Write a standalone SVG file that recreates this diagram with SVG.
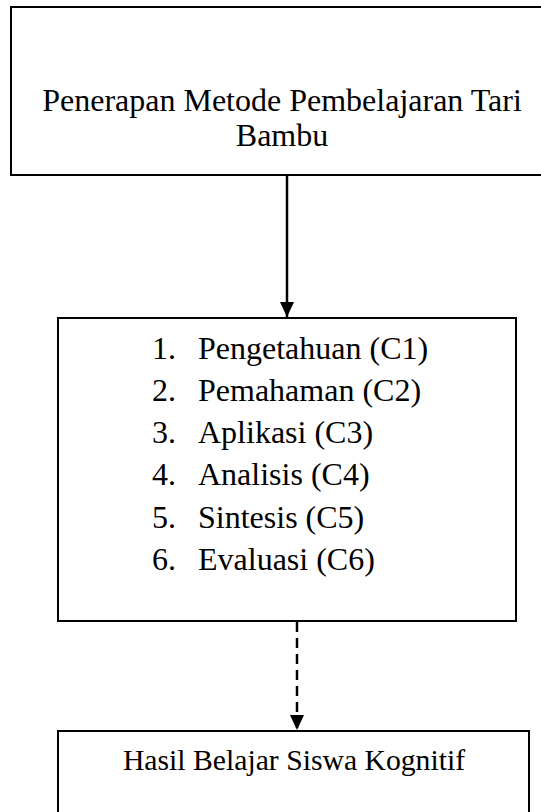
<svg xmlns="http://www.w3.org/2000/svg" width="541" height="812" viewBox="0 0 541 812">
<style>
.box{fill:#fff;stroke:#000;stroke-width:2}
.t{font-family:"Liberation Serif","Times New Roman",serif;font-size:32px;fill:#000}
.c{font-family:"Liberation Serif","Times New Roman",serif;font-size:29.7px;fill:#000}
.conn{stroke:#000;stroke-width:2.5;fill:none}
</style>
<defs>
<marker id="ah" markerWidth="15" markerHeight="14" refX="15" refY="7" orient="auto" markerUnits="userSpaceOnUse">
<path d="M0,0 L15,7 L0,14 Z" fill="#000"/>
</marker>
</defs>
<rect width="541" height="812" fill="#fff"/>
<g id="connectors">
<line class="conn" x1="287" y1="175" x2="287" y2="317" marker-end="url(#ah)"/>
<line class="conn" x1="297" y1="622" x2="297" y2="730" stroke-dasharray="10,6" marker-end="url(#ah)"/>
</g>
<g id="node-penerapan">
<rect class="box" x="11" y="7" width="545" height="168"/>
<text class="t" x="282" y="111" text-anchor="middle">Penerapan Metode Pembelajaran Tari</text>
<text class="t" x="282" y="146" text-anchor="middle">Bambu</text>
</g>
<g id="node-kognitif">
<rect class="box" x="58" y="318" width="458" height="303"/>
<text class="t" x="152" y="359">1.</text><text class="t" x="198" y="359">Pengetahuan (C1)</text>
<text class="t" x="152" y="401">2.</text><text class="t" x="198" y="401">Pemahaman (C2)</text>
<text class="t" x="152" y="443">3.</text><text class="t" x="198" y="443">Aplikasi (C3)</text>
<text class="t" x="152" y="485">4.</text><text class="t" x="198" y="485">Analisis (C4)</text>
<text class="t" x="152" y="528">5.</text><text class="t" x="198" y="528">Sintesis (C5)</text>
<text class="t" x="152" y="570">6.</text><text class="t" x="198" y="570">Evaluasi (C6)</text>
</g>
<g id="node-hasil">
<rect class="box" x="58" y="731" width="471" height="100"/>
<text class="c" x="294" y="770" text-anchor="middle">Hasil Belajar Siswa Kognitif</text>
</g>
</svg>
